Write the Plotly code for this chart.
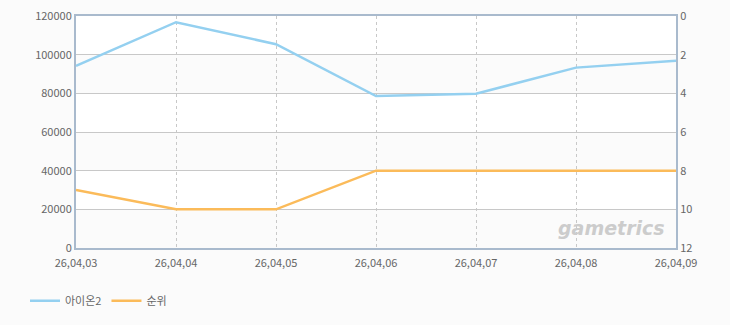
import plotly.graph_objects as go

dates = ["26,04,03", "26,04,04", "26,04,05", "26,04,06", "26,04,07", "26,04,08", "26,04,09"]
aion2 = [94200, 116800, 105400, 78600, 79800, 93300, 96900]
rank = [9, 10, 10, 8, 8, 8, 8]

font_family = "Noto Sans CJK KR, DejaVu Sans, sans-serif"
axis_color = "#a9bacd"

fig = go.Figure()
fig.add_trace(go.Scatter(x=dates, y=aion2, name="아이온2", mode="lines",
                         line=dict(color="#94d0f0", width=2.5), yaxis="y"))
fig.add_trace(go.Scatter(x=dates, y=rank, name="순위", mode="lines",
                         line=dict(color="#fbbb5a", width=2.5), yaxis="y2"))

# alternating bands
for lo in [0, 40000, 80000]:
    fig.add_shape(type="rect", xref="paper", yref="y", x0=0, x1=1, y0=lo, y1=lo + 20000,
                  fillcolor="#fbfbfb", line=dict(width=0), layer="below")

fig.add_annotation(text="<b><i>gametrics</i></b>", xref="paper", yref="paper",
                   x=0.985, y=0.03, xanchor="right", yanchor="bottom", showarrow=False,
                   font=dict(family="DejaVu Sans, sans-serif", size=19, color="#cccccc"))

fig.update_layout(
    width=730, height=325,
    margin=dict(l=76, r=54, t=16, b=77, autoexpand=False),
    paper_bgcolor="#fbfbfb",
    plot_bgcolor="#ffffff",
    font=dict(family=font_family, size=11, color="#666666"),
    showlegend=True,
    legend=dict(orientation="h", x=-0.085, y=-0.165, xanchor="left", yanchor="top",
                font=dict(size=11, color="#666666"), itemwidth=30, bgcolor="rgba(0,0,0,0)"),
    xaxis=dict(type="category", range=[0, 6], showgrid=True, gridcolor="#c8c8c8",
               griddash="3px,3px", gridwidth=1, showline=True, linecolor=axis_color, linewidth=2,
               mirror=True, ticks="", tickfont=dict(size=11, color="#666666"), zeroline=False,
               automargin=False, ticklabelstandoff=4),
    yaxis=dict(range=[0, 120000], dtick=20000, showgrid=True, gridcolor="#c8c8c8", gridwidth=1,
               showline=True, linecolor=axis_color, linewidth=2, ticks="", zeroline=False,
               tickfont=dict(size=11, color="#666666"), tickformat="d", automargin=False),
    yaxis2=dict(range=[12, 0], dtick=2, overlaying="y", side="right", showgrid=False,
                showline=True, linecolor=axis_color, linewidth=2, ticks="", zeroline=False,
                tickfont=dict(size=11, color="#666666"), automargin=False),
)

fig.write_html("out.html")
